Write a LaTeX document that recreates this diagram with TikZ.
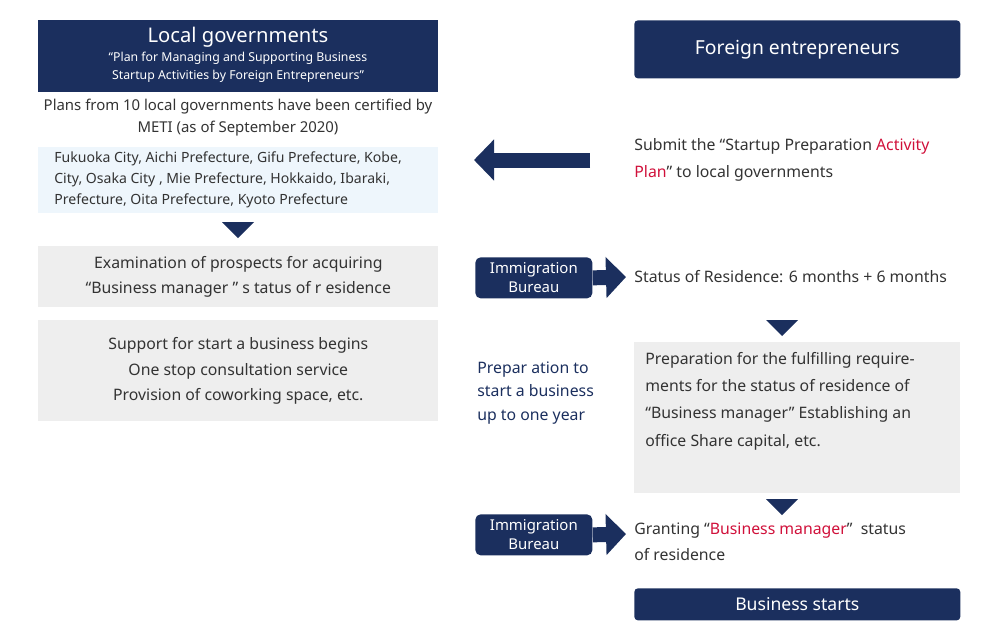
\documentclass[tikz,border=0pt]{standalone}
\usepackage{fontspec}
\setmainfont{Noto Sans}
\usetikzlibrary{positioning, arrows.meta}
\definecolor{navy}{HTML}{1B2F5E}
\definecolor{lightblue}{HTML}{EEF6FC}
\definecolor{lightgray}{HTML}{EEEEEE}
\definecolor{accent}{HTML}{D0103A}
\definecolor{ink}{HTML}{333333}
\tikzset{
    navybox/.style={fill=navy, text=white, font=\bfseries, inner sep=0pt},
    graybox/.style={fill=lightgray, text=ink, font=\bfseries\fontsize{9}{14.5}\selectfont, inner sep=0pt, align=center},
    bureau/.style={fill=navy, text=white, rounded corners=3pt, minimum width=2.34cm, minimum height=0.82cm, align=center, font=\bfseries\fontsize{8.5}{11}\selectfont, inner sep=0pt},
    plain/.style={text=ink, font=\bfseries\fontsize{9}{15}\selectfont, inner sep=0pt},
    downtri/.style={fill=navy, draw=none},
    bigarrow/.style={navy, line width=0.3cm, -{Triangle[length=0.4cm, width=0.8cm]}}
}
\begin{document}
\begin{tikzpicture}[x=0.02cm, y=-0.02cm]
    \useasboundingbox (0,0) rectangle (1000,640);
    % left column
    \node[navybox, minimum width=8cm, minimum height=1.44cm, anchor=north west] (localgov) at (38,20) {};
    \node[text=white, font=\bfseries\fontsize{11.5}{15}\selectfont, inner sep=0pt] (localtitle) at (238,37) {Local governments};
    \node[text=white, font=\bfseries\fontsize{7}{10}\selectfont, inner sep=0pt, align=center] (localplan) at (238,67)
        {“Plan for Managing and Supporting Business\\Startup Activities by Foreign Entrepreneurs”};
    \node[plain, align=center, font=\bfseries\fontsize{8.5}{12.5}\selectfont] (certified) at (238,118)
        {Plans from 10 local governments have been certified by\\METI (as of September 2020)};
    \node[fill=lightblue, minimum width=8cm, minimum height=1.32cm, anchor=north west, inner sep=0pt] (cities) at (38,147) {};
    \node[plain, anchor=west, align=left, font=\bfseries\fontsize{8}{11.8}\selectfont] (citiestext) at (54,180)
        {Fukuoka City, Aichi Prefecture, Gifu Prefecture, Kobe,\\City, Osaka City , Mie Prefecture, Hokkaido, Ibaraki,\\Prefecture, Oita Prefecture, Kyoto Prefecture};
    \fill[downtri] (222,222) -- (254,222) -- (238,238) -- cycle;
    \node[graybox, minimum width=8cm, minimum height=1.22cm, anchor=north west] (exam) at (38,246)
        {Examination of prospects for acquiring\\“Business manager ” s tatus of r esidence};
    \node[graybox, minimum width=8cm, minimum height=2.02cm, anchor=north west] (support) at (38,320)
        {Support for start a business begins\\One stop consultation service\\Provision of coworking space, etc.};
    % right column
    \node[navybox, minimum width=6.52cm, minimum height=1.16cm, anchor=north west, rounded corners=2pt,
          font=\bfseries\fontsize{11}{14}\selectfont] (foreign) at (634,20) {Foreign entrepreneurs};
    \coordinate (submitend) at (590,160);
    \coordinate (submittip) at (474,160);
    \draw[bigarrow] (submitend) -- (submittip);
    \node[plain, anchor=west, align=left] (submit) at (634,160)
        {Submit the “Startup Preparation \textcolor{accent}{Activity}\\\textcolor{accent}{Plan}” to local governments};
    \node[bureau, anchor=north west] (bureau1) at (475,257) {Immigration\\Bureau};
    \coordinate (tip1) at (626,277);
    \draw[bigarrow] (bureau1.east) -- (tip1);
    \node[plain, anchor=west] (status) at (634,277) {Status of Residence: 6 months + 6 months};
    \fill[downtri] (766,320) -- (798,320) -- (782,336) -- cycle;
    \node[fill=lightgray, minimum width=6.52cm, minimum height=3.02cm, anchor=north west, inner sep=0pt] (prep) at (634,342) {};
    \node[plain, anchor=north west, align=left, font=\bfseries\fontsize{9}{15.5}\selectfont] (preptext) at (645,352)
        {Preparation for the fulfilling require-\\ments for the status of residence of\\“Business manager” Establishing an\\office Share capital, etc.};
    \node[plain, anchor=north west, align=left, text=navy, font=\bfseries\fontsize{9}{13.6}\selectfont] (prepyear) at (477,361)
        {Prepar ation to\\start a business\\up to one year};
    \fill[downtri] (766,499) -- (798,499) -- (782,515) -- cycle;
    \node[bureau, anchor=north west] (bureau2) at (475,514) {Immigration\\Bureau};
    \coordinate (tip2) at (626,534);
    \draw[bigarrow] (bureau2.east) -- (tip2);
    \node[plain, anchor=north west, align=left] (granting) at (634,522)
        {Granting “\textcolor{accent}{Business manager}”\ \ status\\of residence};
    \node[navybox, minimum width=6.52cm, minimum height=0.64cm, anchor=north west, rounded corners=2pt,
          font=\bfseries\fontsize{10}{12}\selectfont] (starts) at (634,588) {Business starts};
\end{tikzpicture}
\end{document}
